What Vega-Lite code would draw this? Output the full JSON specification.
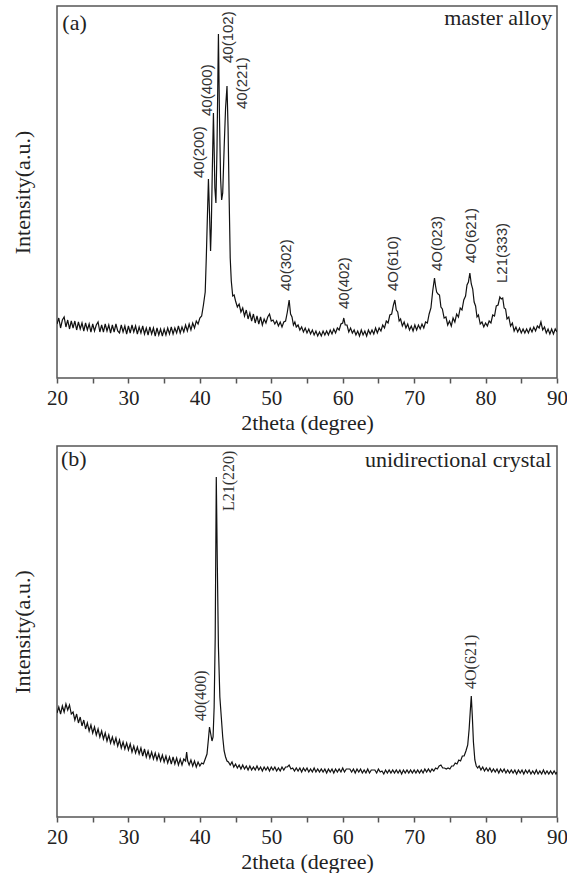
{
  "$schema": "https://vega.github.io/schema/vega-lite/v6.json",
  "padding": {"left": 10, "top": 5, "right": 8, "bottom": 0},
  "spacing": 11,
  "config": {
    "view": {"stroke": "#555555", "strokeWidth": 1.5},
    "font": "Liberation Serif",
    "axisX": {
      "grid": false, "domain": false,
      "values": [20, 25, 30, 35, 40, 45, 50, 55, 60, 65, 70, 75, 80, 85, 90],
      "labelExpr": "datum.value % 10 === 0 ? datum.label : ''",
      "tickSize": 5, "tickColor": "#555555", "tickWidth": 1.5,
      "labelFont": "Liberation Serif", "labelFontSize": 21, "labelColor": "#222222", "labelPadding": 4,
      "labelFlush": false, "labelOverlap": false,
      "titleFont": "Liberation Serif", "titleFontSize": 22, "titleFontWeight": "normal", "titleColor": "#222222", "titlePadding": 4
    },
    "axisY": {
      "grid": false, "domain": false, "ticks": false, "labels": false,
      "minExtent": 0, "maxExtent": 0,
      "titleFont": "Liberation Serif", "titleFontSize": 22, "titleFontWeight": "normal", "titleColor": "#222222", "titlePadding": 23
    }
  },
  "datasets": {
    "a": [
      {"x":20.0,"y":54},{"x":20.25,"y":60},{"x":20.5,"y":50},{"x":20.75,"y":58},{"x":21.0,"y":61},{"x":21.25,"y":51},{"x":21.5,"y":58},{"x":21.75,"y":49},{"x":22.0,"y":57},{"x":22.25,"y":50},{"x":22.5,"y":57},{"x":22.75,"y":48},{"x":23.0,"y":56},{"x":23.25,"y":49},{"x":23.5,"y":55},{"x":23.75,"y":47},{"x":24.0,"y":55},{"x":24.25,"y":48},{"x":24.5,"y":54},{"x":24.75,"y":46},{"x":25.0,"y":54},{"x":25.25,"y":47},{"x":25.5,"y":53},{"x":25.75,"y":56},{"x":26.0,"y":46},{"x":26.25,"y":53},{"x":26.5,"y":46},{"x":26.75,"y":54},{"x":27.0,"y":47},{"x":27.25,"y":53},{"x":27.5,"y":45},{"x":27.75,"y":53},{"x":28.0,"y":46},{"x":28.25,"y":54},{"x":28.5,"y":47},{"x":28.75,"y":45},{"x":29.0,"y":53},{"x":29.25,"y":46},{"x":29.5,"y":52},{"x":29.75,"y":44},{"x":30.0,"y":52},{"x":30.25,"y":45},{"x":30.5,"y":53},{"x":30.75,"y":46},{"x":31.0,"y":52},{"x":31.25,"y":44},{"x":31.5,"y":51},{"x":31.75,"y":45},{"x":32.0,"y":52},{"x":32.25,"y":44},{"x":32.5,"y":50},{"x":32.75,"y":43},{"x":33.0,"y":51},{"x":33.25,"y":44},{"x":33.5,"y":50},{"x":33.75,"y":42},{"x":34.0,"y":50},{"x":34.25,"y":43},{"x":34.5,"y":49},{"x":34.75,"y":42},{"x":35.0,"y":49},{"x":35.25,"y":43},{"x":35.5,"y":50},{"x":35.75,"y":44},{"x":36.0,"y":51},{"x":36.25,"y":44},{"x":36.5,"y":50},{"x":36.75,"y":45},{"x":37.0,"y":52},{"x":37.25,"y":45},{"x":37.5,"y":51},{"x":37.75,"y":46},{"x":38.0,"y":53},{"x":38.25,"y":47},{"x":38.5,"y":54},{"x":38.75,"y":48},{"x":39.0,"y":55},{"x":39.25,"y":50},{"x":39.5,"y":57},{"x":39.75,"y":54},{"x":40.0,"y":60},{"x":40.25,"y":62},{"x":40.5,"y":73},{"x":40.75,"y":86},{"x":40.9,"y":120},{"x":41.05,"y":160},{"x":41.2,"y":199},{"x":41.35,"y":165},{"x":41.5,"y":127},{"x":41.6,"y":150},{"x":41.75,"y":210},{"x":41.9,"y":265},{"x":42.0,"y":230},{"x":42.1,"y":190},{"x":42.25,"y":175},{"x":42.4,"y":230},{"x":42.6,"y":344},{"x":42.75,"y":260},{"x":42.9,"y":200},{"x":43.05,"y":178},{"x":43.2,"y":185},{"x":43.4,"y":230},{"x":43.6,"y":270},{"x":43.8,"y":292},{"x":43.95,"y":250},{"x":44.1,"y":180},{"x":44.25,"y":120},{"x":44.4,"y":97},{"x":44.6,"y":82},{"x":44.8,"y":83},{"x":45.0,"y":77},{"x":45.25,"y":71},{"x":45.5,"y":74},{"x":45.75,"y":66},{"x":46.0,"y":70},{"x":46.25,"y":62},{"x":46.5,"y":68},{"x":46.75,"y":59},{"x":47.0,"y":65},{"x":47.25,"y":57},{"x":47.5,"y":64},{"x":47.75,"y":55},{"x":48.0,"y":62},{"x":48.25,"y":54},{"x":48.5,"y":61},{"x":48.75,"y":53},{"x":49.0,"y":59},{"x":49.25,"y":55},{"x":49.5,"y":61},{"x":49.75,"y":64},{"x":50.0,"y":57},{"x":50.25,"y":58},{"x":50.5,"y":54},{"x":50.75,"y":57},{"x":51.0,"y":52},{"x":51.25,"y":56},{"x":51.5,"y":51},{"x":51.75,"y":56},{"x":52.0,"y":57},{"x":52.25,"y":66},{"x":52.5,"y":78},{"x":52.7,"y":64},{"x":52.9,"y":61},{"x":53.1,"y":53},{"x":53.3,"y":56},{"x":53.5,"y":51},{"x":53.75,"y":53},{"x":54.0,"y":48},{"x":54.25,"y":51},{"x":54.5,"y":46},{"x":54.75,"y":50},{"x":55.0,"y":45},{"x":55.25,"y":49},{"x":55.5,"y":44},{"x":55.75,"y":48},{"x":56.0,"y":43},{"x":56.25,"y":47},{"x":56.5,"y":42},{"x":56.75,"y":46},{"x":57.0,"y":42},{"x":57.25,"y":47},{"x":57.5,"y":43},{"x":57.75,"y":47},{"x":58.0,"y":43},{"x":58.25,"y":48},{"x":58.5,"y":44},{"x":58.75,"y":49},{"x":59.0,"y":45},{"x":59.25,"y":50},{"x":59.5,"y":48},{"x":59.75,"y":54},{"x":60.0,"y":55},{"x":60.15,"y":60},{"x":60.35,"y":53},{"x":60.6,"y":53},{"x":60.85,"y":46},{"x":61.1,"y":50},{"x":61.35,"y":45},{"x":61.6,"y":48},{"x":61.85,"y":43},{"x":62.1,"y":47},{"x":62.35,"y":42},{"x":62.6,"y":48},{"x":62.85,"y":43},{"x":63.1,"y":47},{"x":63.35,"y":42},{"x":63.6,"y":48},{"x":63.85,"y":44},{"x":64.1,"y":48},{"x":64.35,"y":44},{"x":64.6,"y":50},{"x":64.85,"y":45},{"x":65.1,"y":50},{"x":65.35,"y":47},{"x":65.6,"y":53},{"x":65.85,"y":50},{"x":66.1,"y":57},{"x":66.35,"y":55},{"x":66.6,"y":63},{"x":66.85,"y":64},{"x":67.1,"y":73},{"x":67.3,"y":78},{"x":67.5,"y":68},{"x":67.7,"y":66},{"x":67.9,"y":57},{"x":68.1,"y":59},{"x":68.35,"y":52},{"x":68.6,"y":56},{"x":68.85,"y":50},{"x":69.1,"y":54},{"x":69.35,"y":48},{"x":69.6,"y":52},{"x":69.85,"y":47},{"x":70.1,"y":53},{"x":70.35,"y":48},{"x":70.6,"y":53},{"x":70.85,"y":49},{"x":71.1,"y":54},{"x":71.35,"y":50},{"x":71.6,"y":56},{"x":71.85,"y":55},{"x":72.1,"y":64},{"x":72.35,"y":70},{"x":72.6,"y":87},{"x":72.85,"y":100},{"x":73.0,"y":92},{"x":73.15,"y":86},{"x":73.35,"y":84},{"x":73.55,"y":83},{"x":73.75,"y":71},{"x":73.95,"y":69},{"x":74.2,"y":60},{"x":74.45,"y":61},{"x":74.7,"y":53},{"x":74.95,"y":57},{"x":75.2,"y":52},{"x":75.45,"y":60},{"x":75.7,"y":56},{"x":75.95,"y":64},{"x":76.2,"y":61},{"x":76.45,"y":70},{"x":76.7,"y":68},{"x":76.95,"y":78},{"x":77.2,"y":82},{"x":77.4,"y":93},{"x":77.6,"y":96},{"x":77.8,"y":105},{"x":78.0,"y":94},{"x":78.2,"y":89},{"x":78.4,"y":76},{"x":78.6,"y":72},{"x":78.8,"y":61},{"x":79.0,"y":63},{"x":79.25,"y":54},{"x":79.5,"y":56},{"x":79.75,"y":51},{"x":80.0,"y":55},{"x":80.25,"y":52},{"x":80.5,"y":57},{"x":80.75,"y":55},{"x":81.0,"y":63},{"x":81.25,"y":62},{"x":81.5,"y":72},{"x":81.75,"y":73},{"x":82.0,"y":81},{"x":82.2,"y":79},{"x":82.4,"y":80},{"x":82.6,"y":70},{"x":82.8,"y":69},{"x":83.0,"y":59},{"x":83.25,"y":61},{"x":83.5,"y":52},{"x":83.75,"y":55},{"x":84.0,"y":47},{"x":84.25,"y":51},{"x":84.5,"y":46},{"x":84.75,"y":50},{"x":85.0,"y":45},{"x":85.25,"y":49},{"x":85.5,"y":45},{"x":85.75,"y":49},{"x":86.0,"y":45},{"x":86.25,"y":50},{"x":86.5,"y":46},{"x":86.75,"y":51},{"x":87.0,"y":47},{"x":87.25,"y":52},{"x":87.5,"y":50},{"x":87.75,"y":56},{"x":88.0,"y":48},{"x":88.25,"y":51},{"x":88.5,"y":45},{"x":88.75,"y":49},{"x":89.0,"y":44},{"x":89.25,"y":49},{"x":89.5,"y":44},{"x":89.75,"y":49},{"x":90.0,"y":46}
    ],
    "b": [
      {"x":20.0,"y":104},{"x":20.25,"y":110},{"x":20.5,"y":103},{"x":20.75,"y":111},{"x":21.0,"y":105},{"x":21.25,"y":113},{"x":21.5,"y":107},{"x":21.75,"y":112},{"x":22.0,"y":103},{"x":22.25,"y":105},{"x":22.5,"y":97},{"x":22.75,"y":103},{"x":23.0,"y":94},{"x":23.25,"y":100},{"x":23.5,"y":91},{"x":23.75,"y":97},{"x":24.0,"y":88},{"x":24.25,"y":94},{"x":24.5,"y":86},{"x":24.75,"y":92},{"x":25.0,"y":84},{"x":25.25,"y":90},{"x":25.5,"y":82},{"x":25.75,"y":88},{"x":26.0,"y":80},{"x":26.25,"y":86},{"x":26.5,"y":78},{"x":26.75,"y":84},{"x":27.0,"y":76},{"x":27.25,"y":82},{"x":27.5,"y":74},{"x":27.75,"y":80},{"x":28.0,"y":73},{"x":28.25,"y":79},{"x":28.5,"y":71},{"x":28.75,"y":77},{"x":29.0,"y":69},{"x":29.25,"y":75},{"x":29.5,"y":68},{"x":29.75,"y":74},{"x":30.0,"y":67},{"x":30.25,"y":73},{"x":30.5,"y":65},{"x":30.75,"y":71},{"x":31.0,"y":64},{"x":31.25,"y":70},{"x":31.5,"y":63},{"x":31.75,"y":69},{"x":32.0,"y":61},{"x":32.25,"y":68},{"x":32.5,"y":60},{"x":32.75,"y":66},{"x":33.0,"y":59},{"x":33.25,"y":65},{"x":33.5,"y":58},{"x":33.75,"y":64},{"x":34.0,"y":57},{"x":34.25,"y":63},{"x":34.5,"y":56},{"x":34.75,"y":62},{"x":35.0,"y":55},{"x":35.25,"y":61},{"x":35.5,"y":54},{"x":35.75,"y":60},{"x":36.0,"y":53},{"x":36.25,"y":60},{"x":36.5,"y":53},{"x":36.75,"y":59},{"x":37.0,"y":52},{"x":37.25,"y":58},{"x":37.5,"y":52},{"x":37.75,"y":58},{"x":38.0,"y":56},{"x":38.15,"y":65},{"x":38.3,"y":56},{"x":38.5,"y":52},{"x":38.75,"y":57},{"x":39.0,"y":51},{"x":39.25,"y":56},{"x":39.5,"y":50},{"x":39.75,"y":55},{"x":40.0,"y":51},{"x":40.25,"y":54},{"x":40.5,"y":53},{"x":40.75,"y":58},{"x":41.0,"y":63},{"x":41.2,"y":78},{"x":41.35,"y":90},{"x":41.5,"y":84},{"x":41.7,"y":76},{"x":41.85,"y":80},{"x":42.0,"y":110},{"x":42.15,"y":180},{"x":42.3,"y":340},{"x":42.45,"y":250},{"x":42.6,"y":170},{"x":42.8,"y":120},{"x":43.0,"y":100},{"x":43.2,"y":80},{"x":43.4,"y":66},{"x":43.6,"y":60},{"x":43.8,"y":56},{"x":44.0,"y":55},{"x":44.25,"y":52},{"x":44.5,"y":55},{"x":44.75,"y":50},{"x":45.0,"y":53},{"x":45.25,"y":49},{"x":45.5,"y":52},{"x":45.75,"y":48},{"x":46.0,"y":52},{"x":46.25,"y":48},{"x":46.5,"y":51},{"x":46.75,"y":47},{"x":47.0,"y":51},{"x":47.25,"y":47},{"x":47.5,"y":50},{"x":47.75,"y":47},{"x":48.0,"y":51},{"x":48.25,"y":47},{"x":48.5,"y":50},{"x":48.75,"y":46},{"x":49.0,"y":50},{"x":49.25,"y":47},{"x":49.5,"y":50},{"x":49.75,"y":46},{"x":50.0,"y":50},{"x":50.25,"y":47},{"x":50.5,"y":50},{"x":50.75,"y":46},{"x":51.0,"y":49},{"x":51.25,"y":46},{"x":51.5,"y":50},{"x":51.75,"y":47},{"x":52.0,"y":50},{"x":52.25,"y":50},{"x":52.5,"y":52},{"x":52.75,"y":48},{"x":53.0,"y":49},{"x":53.25,"y":46},{"x":53.5,"y":49},{"x":53.75,"y":46},{"x":54.0,"y":49},{"x":54.25,"y":45},{"x":54.5,"y":49},{"x":54.75,"y":46},{"x":55.0,"y":49},{"x":55.25,"y":45},{"x":55.5,"y":48},{"x":55.75,"y":45},{"x":56.0,"y":49},{"x":56.25,"y":45},{"x":56.5,"y":48},{"x":56.75,"y":45},{"x":57.0,"y":48},{"x":57.25,"y":45},{"x":57.5,"y":48},{"x":57.75,"y":44},{"x":58.0,"y":48},{"x":58.25,"y":45},{"x":58.5,"y":48},{"x":58.75,"y":44},{"x":59.0,"y":48},{"x":59.25,"y":45},{"x":59.5,"y":48},{"x":59.75,"y":45},{"x":60.0,"y":49},{"x":60.25,"y":45},{"x":60.5,"y":48},{"x":60.75,"y":48},{"x":61.0,"y":48},{"x":61.25,"y":45},{"x":61.5,"y":48},{"x":61.75,"y":44},{"x":62.0,"y":48},{"x":62.25,"y":45},{"x":62.5,"y":48},{"x":62.75,"y":44},{"x":63.0,"y":47},{"x":63.25,"y":44},{"x":63.5,"y":48},{"x":63.75,"y":44},{"x":64.0,"y":47},{"x":64.25,"y":47},{"x":64.5,"y":47},{"x":64.75,"y":44},{"x":65.0,"y":48},{"x":65.25,"y":45},{"x":65.5,"y":46},{"x":65.75,"y":43},{"x":66.0,"y":47},{"x":66.25,"y":44},{"x":66.5,"y":47},{"x":66.75,"y":44},{"x":67.0,"y":47},{"x":67.25,"y":44},{"x":67.5,"y":47},{"x":67.75,"y":44},{"x":68.0,"y":47},{"x":68.25,"y":43},{"x":68.5,"y":47},{"x":68.75,"y":44},{"x":69.0,"y":47},{"x":69.25,"y":44},{"x":69.5,"y":47},{"x":69.75,"y":44},{"x":70.0,"y":47},{"x":70.25,"y":44},{"x":70.5,"y":47},{"x":70.75,"y":44},{"x":71.0,"y":47},{"x":71.25,"y":44},{"x":71.5,"y":48},{"x":71.75,"y":45},{"x":72.0,"y":48},{"x":72.25,"y":45},{"x":72.5,"y":48},{"x":72.75,"y":46},{"x":73.0,"y":49},{"x":73.25,"y":48},{"x":73.5,"y":51},{"x":73.75,"y":52},{"x":74.0,"y":49},{"x":74.25,"y":49},{"x":74.5,"y":48},{"x":74.75,"y":49},{"x":75.0,"y":48},{"x":75.25,"y":51},{"x":75.5,"y":51},{"x":75.75,"y":54},{"x":76.0,"y":53},{"x":76.25,"y":57},{"x":76.5,"y":56},{"x":76.75,"y":61},{"x":77.0,"y":61},{"x":77.25,"y":66},{"x":77.5,"y":72},{"x":77.7,"y":88},{"x":77.85,"y":105},{"x":78.0,"y":121},{"x":78.15,"y":100},{"x":78.3,"y":75},{"x":78.5,"y":57},{"x":78.7,"y":51},{"x":78.9,"y":49},{"x":79.1,"y":51},{"x":79.35,"y":47},{"x":79.6,"y":50},{"x":79.85,"y":46},{"x":80.1,"y":49},{"x":80.35,"y":46},{"x":80.6,"y":49},{"x":80.85,"y":45},{"x":81.1,"y":48},{"x":81.35,"y":45},{"x":81.6,"y":48},{"x":81.85,"y":44},{"x":82.1,"y":48},{"x":82.35,"y":45},{"x":82.6,"y":48},{"x":82.85,"y":44},{"x":83.1,"y":47},{"x":83.35,"y":44},{"x":83.6,"y":47},{"x":83.85,"y":44},{"x":84.1,"y":47},{"x":84.35,"y":43},{"x":84.6,"y":47},{"x":84.85,"y":44},{"x":85.1,"y":47},{"x":85.35,"y":43},{"x":85.6,"y":47},{"x":85.85,"y":44},{"x":86.1,"y":47},{"x":86.35,"y":43},{"x":86.6,"y":46},{"x":86.85,"y":43},{"x":87.1,"y":47},{"x":87.35,"y":43},{"x":87.6,"y":46},{"x":87.85,"y":43},{"x":88.1,"y":47},{"x":88.35,"y":43},{"x":88.6,"y":46},{"x":88.85,"y":43},{"x":89.1,"y":46},{"x":89.35,"y":43},{"x":89.6,"y":46},{"x":89.85,"y":43},{"x":90.0,"y":45}
    ],
    "peaksA": [
      {"x":39.9,"y":200,"t":"40(200)"},
      {"x":41.0,"y":262,"t":"40(400)"},
      {"x":44.0,"y":315,"t":"40(102)"},
      {"x":45.9,"y":269,"t":"40(221)"},
      {"x":52.1,"y":87,"t":"40(302)"},
      {"x":60.2,"y":69,"t":"40(402)"},
      {"x":67.1,"y":87,"t":"4O(610)"},
      {"x":73.2,"y":107,"t":"4O(023)"},
      {"x":78.0,"y":115,"t":"4O(621)"},
      {"x":82.3,"y":95,"t":"L21(333)"}
    ],
    "peaksB": [
      {"x":40.2,"y":96,"t":"40(400)"},
      {"x":44.1,"y":306,"t":"L21(220)"},
      {"x":77.96,"y":128,"t":"4O(621)"}
    ],
    "tagA": [{"x":20.75,"y":355,"t":"(a)"}],
    "nameA": [{"x":89.35,"y":360,"t":"master alloy"}],
    "tagB": [{"x":20.55,"y":358,"t":"(b)"}],
    "nameB": [{"x":89.2,"y":357,"t":"unidirectional crystal"}]
  },
  "vconcat": [
    {
      "width": 500,
      "height": 372,
      "encoding": {
        "x": {"field": "x", "type": "quantitative", "scale": {"domain": [20, 90], "nice": false, "zero": false}, "title": "2theta (degree)"},
        "y": {"field": "y", "type": "quantitative", "scale": {"domain": [0, 372], "nice": false}, "title": "Intensity(a.u.)"}
      },
      "layer": [
        {"data": {"name": "a"}, "mark": {"type": "line", "color": "#111111", "strokeWidth": 1.2, "clip": true}},
        {"data": {"name": "peaksA"}, "mark": {"type": "text", "angle": 270, "align": "left", "baseline": "middle", "font": "Liberation Sans", "fontSize": 15, "color": "#333333"}, "encoding": {"text": {"field": "t"}}},
        {"data": {"name": "tagA"}, "mark": {"type": "text", "align": "left", "baseline": "middle", "font": "Liberation Serif", "fontSize": 22, "color": "#222222"}, "encoding": {"text": {"field": "t"}}},
        {"data": {"name": "nameA"}, "mark": {"type": "text", "align": "right", "baseline": "middle", "font": "Liberation Serif", "fontSize": 22, "color": "#222222"}, "encoding": {"text": {"field": "t"}}}
      ]
    },
    {
      "width": 500,
      "height": 371,
      "encoding": {
        "x": {"field": "x", "type": "quantitative", "scale": {"domain": [20, 90], "nice": false, "zero": false}, "title": "2theta (degree)"},
        "y": {"field": "y", "type": "quantitative", "scale": {"domain": [0, 371], "nice": false}, "title": "Intensity(a.u.)"}
      },
      "layer": [
        {"data": {"name": "b"}, "mark": {"type": "line", "color": "#111111", "strokeWidth": 1.2, "clip": true}},
        {"data": {"name": "peaksB"}, "mark": {"type": "text", "angle": 270, "align": "left", "baseline": "middle", "font": "Liberation Serif", "fontSize": 16, "color": "#333333"}, "encoding": {"text": {"field": "t"}}},
        {"data": {"name": "tagB"}, "mark": {"type": "text", "align": "left", "baseline": "middle", "font": "Liberation Serif", "fontSize": 22, "color": "#222222"}, "encoding": {"text": {"field": "t"}}},
        {"data": {"name": "nameB"}, "mark": {"type": "text", "align": "right", "baseline": "middle", "font": "Liberation Serif", "fontSize": 22, "color": "#222222"}, "encoding": {"text": {"field": "t"}}}
      ]
    }
  ]
}
